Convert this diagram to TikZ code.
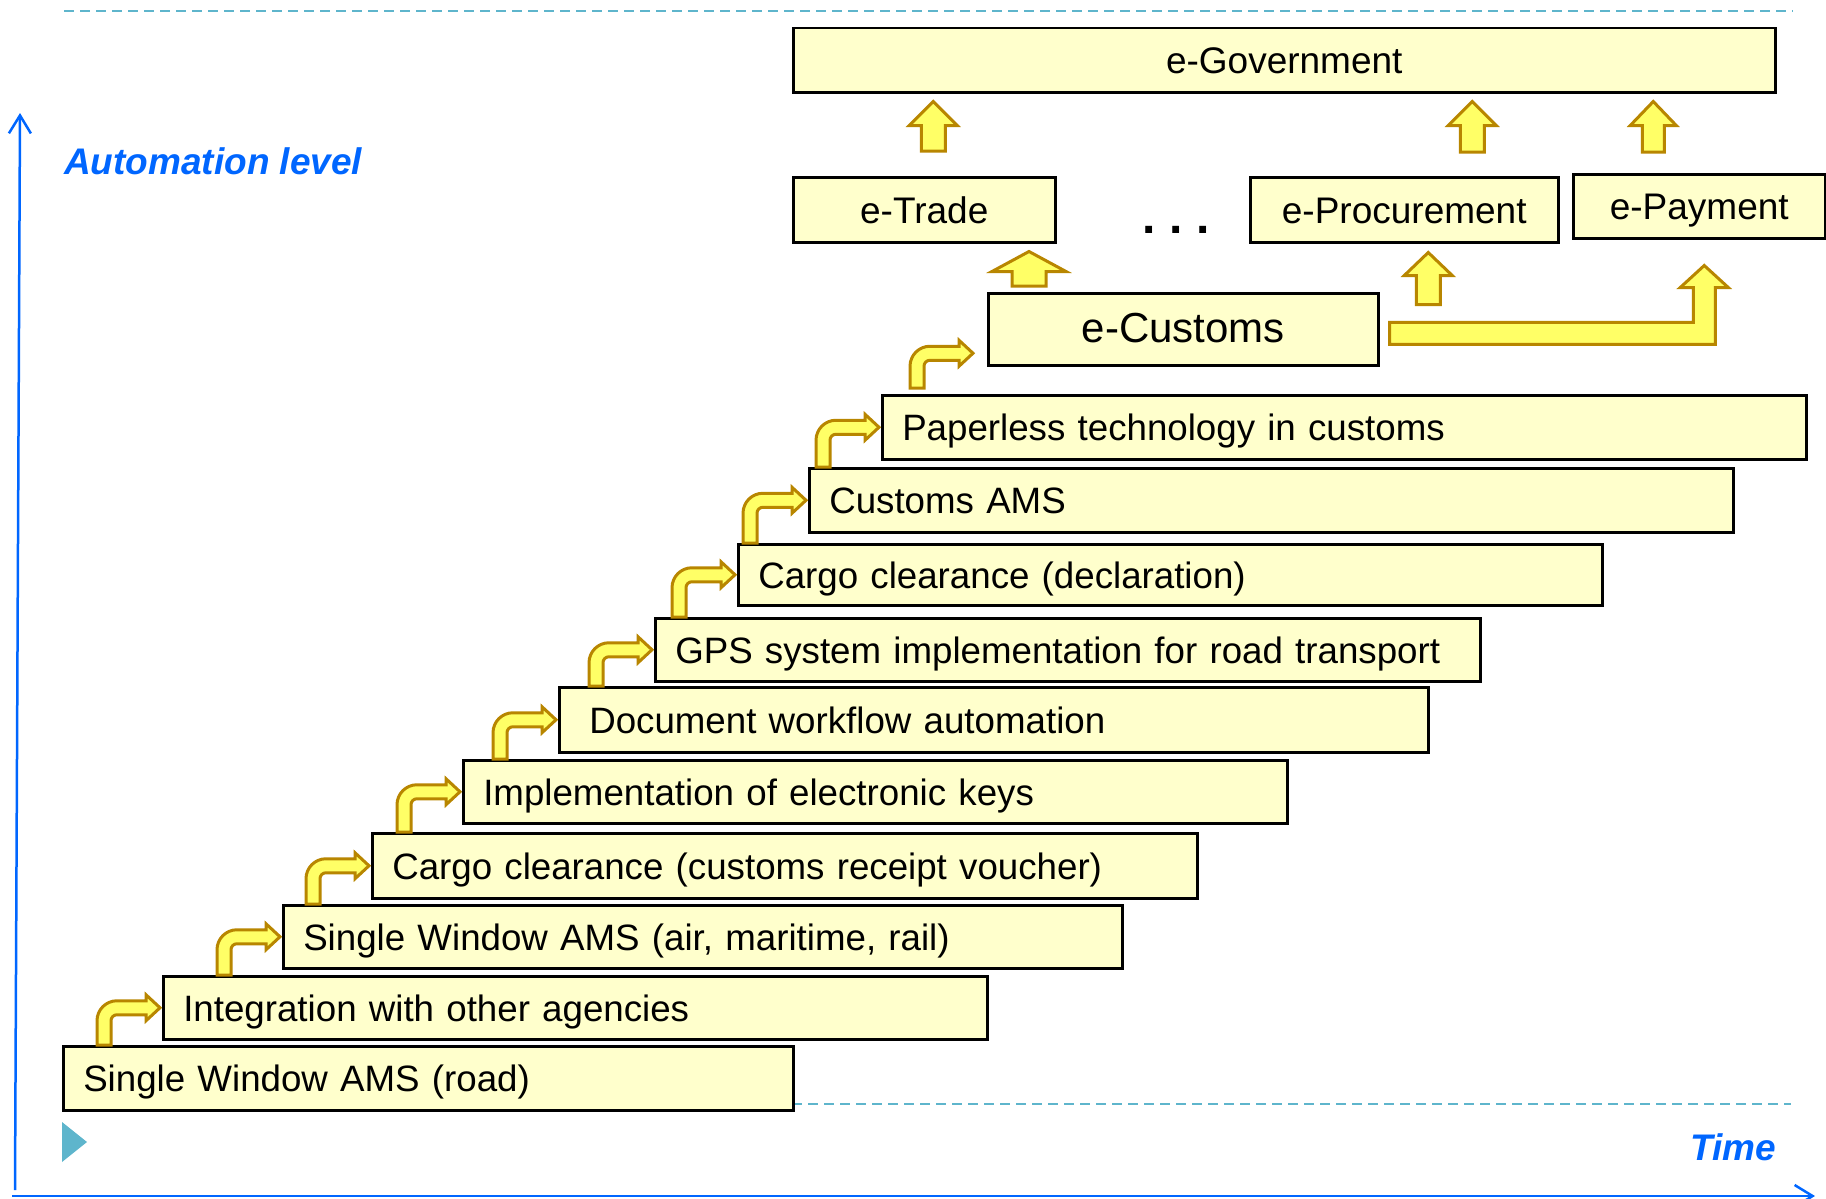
\documentclass[tikz,border=0pt]{standalone}
\usepackage{fontspec}
\setmainfont{Liberation Sans}
\usetikzlibrary{arrows.meta,calc}
\definecolor{boxfill}{RGB}{255,255,204}
\definecolor{arrowfill}{RGB}{255,255,102}
\definecolor{arrowline}{RGB}{184,134,0}
\definecolor{axisblue}{RGB}{0,102,255}
\definecolor{guidecolor}{RGB}{94,181,204}
%% bent block arrow: #1 gives the level of the stem foot, #2 the tip
\newcommand{\stairArrow}[2]{%
  \draw[bentArrow] let \p1=(#1), \p2=(#2) in
    (\x2-63pt,\y1) -- (\x2-63pt,\y2-13pt) arc[start angle=180,end angle=90,radius=20pt]
    -- (\x2-14pt,\y2+7pt) -- (\x2-14pt,\y2+13pt) -- (\x2,\y2)
    -- (\x2-14pt,\y2-13pt) -- (\x2-14pt,\y2-7pt) -- (\x2-43pt,\y2-7pt)
    arc[start angle=90,end angle=180,radius=6pt] -- (\x2-49pt,\y1) -- cycle;}
%% straight block arrow: #1 foot, #2 tip level, #3 half shaft, #4 half head, #5 head length
\newcommand{\upArrow}[5]{%
  \draw[bentArrow] let \p1=(#1), \p2=(#2) in
    (\x1-#3,\y1) -- (\x1-#3,\y2-#5) -- (\x1-#4,\y2-#5) -- (\x1,\y2)
    -- (\x1+#4,\y2-#5) -- (\x1+#3,\y2-#5) -- (\x1+#3,\y1) -- cycle;}

\begin{document}
\begin{tikzpicture}[x=1pt, y=1pt]
%% all positions are given in pixels of the original slide, y pointing down
\tikzstyle{stage}=[draw=black, line width=2.5pt, fill=boxfill, anchor=north west, inner xsep=20pt, inner ysep=0pt, text height=30pt, text depth=3pt, align=left, font=\fontsize{36.7}{44}\selectfont]
\tikzstyle{ebox}=[draw=black, line width=2.5pt, fill=boxfill, anchor=north west, inner sep=0pt, text height=30pt, text depth=3pt, align=center, font=\fontsize{37}{44}\selectfont]
\tikzstyle{bentArrow}=[draw=arrowline, fill=arrowfill, line width=3pt]
\tikzstyle{axis}=[draw=axisblue, line width=2.5pt, ->, >={Straight Barb[length=18pt,width=22pt]}]
\tikzstyle{axislabel}=[text=axisblue, anchor=west, inner sep=0pt, font=\fontsize{37}{44}\selectfont\bfseries\itshape]
\tikzstyle{guideline}=[draw=guidecolor, line width=2pt, dash pattern=on 10pt off 6pt]
\useasboundingbox (0,0) rectangle (1826,-1199);
%% guide lines and marker
\draw[guideline] (64,-11) -- (1793,-11);
\draw[guideline] (792,-1104) -- (1791,-1104);
\fill[guidecolor] (62,-1122) -- (87,-1142) -- (62,-1162) -- cycle;
%% axes
\draw[axis] (15,-1190) -- (20,-113);
\draw[axis] (12,-1196) -- (1815,-1196);
\node[axislabel] at (64,-161) (yLabel) {Automation level};
\node[axislabel] at (1690,-1147) (xLabel) {Time};
%% the staircase
\node[stage, minimum height=64pt, text width=690pt] at (62,-1045) (Road) {Single Window AMS (road)};
\node[stage, minimum height=63pt, text width=784pt] at (162,-975) (Integration) {Integration with other agencies};
\node[stage, minimum height=63pt, text width=799pt] at (282,-904) (SWair) {Single Window AMS (air, maritime, rail)};
\node[stage, minimum height=65pt, text width=785pt] at (371,-832) (Receipt) {Cargo clearance (customs receipt voucher)};
\node[stage, minimum height=63pt, text width=784pt] at (462,-759) (Keys) {Implementation of electronic keys};
\node[stage, minimum height=65pt, inner xsep=30pt, text width=809pt] at (558,-686) (Doc) {Document workflow automation};
\node[stage, minimum height=63pt, text width=785pt] at (654,-617) (GPS) {GPS system implementation for road transport};
\node[stage, minimum height=61pt, text width=824pt] at (737,-543) (CargoDecl) {Cargo clearance (declaration)};
\node[stage, minimum height=64pt, text width=884pt] at (808,-467) (CustomsAMS) {Customs AMS};
\node[stage, minimum height=64pt, text width=884pt] at (881,-394) (Paperless) {Paperless technology in customs};
\node[ebox, minimum width=390pt, minimum height=72pt, font=\fontsize{42}{50}\selectfont] at (987,-292) (eCustoms) {e-Customs};
%% upper level
\node[ebox, minimum width=262pt, minimum height=65pt] at (792,-176) (eTrade) {e-Trade};
\node[ebox, minimum width=308pt, minimum height=65pt] at (1249,-176) (eProc) {e-Procurement};
\node[ebox, minimum width=252pt, minimum height=64pt] at (1572,-173) (ePay) {e-Payment};
\node[ebox, minimum width=982pt, minimum height=64pt] at (792,-27) (eGov) {e-Government};
\node[inner sep=0pt, font=\fontsize{48}{50}\selectfont\bfseries] at (1176,-230) (dots) {.\hspace{14pt}.\hspace{14pt}.};
%% steps between the stages
\foreach \lo/\hi in {Road/Integration, Integration/SWair, SWair/Receipt, Receipt/Keys, Keys/Doc, Doc/GPS, GPS/CargoDecl, CargoDecl/CustomsAMS, CustomsAMS/Paperless}
  \stairArrow{\lo.north}{[xshift=-2pt]\hi.west};
\stairArrow{[yshift=6pt]Paperless.north}{[shift={(-14pt,-24pt)}]eCustoms.west}
%% arrows to the upper level
\upArrow{[xshift=42pt,yshift=6pt]eCustoms.north west}{[yshift=-8pt]eTrade.south}{17pt}{37pt}{20pt}
\upArrow{[xshift=24pt,yshift=-61pt]eProc.south}{[yshift=-9pt]eProc.south}{12pt}{24pt}{23pt}
\upArrow{[xshift=9pt,yshift=25pt]eTrade.north}{[yshift=-8pt]eGov.south}{12pt}{24pt}{24pt}
\upArrow{[xshift=68pt,yshift=24pt]eProc.north}{[yshift=-8pt]eGov.south}{12pt}{24pt}{24pt}
\upArrow{[xshift=-46pt,yshift=21pt]ePay.north}{[yshift=-8pt]eGov.south}{11pt}{23pt}{24pt}
%% long arrow from e-Customs to e-Payment
\draw[bentArrow] let \p1=([xshift=10pt,yshift=-4pt]eCustoms.east), \p2=([xshift=5pt,yshift=-26pt]ePay.south) in
  (\x1,\y1+11pt) -- (\x2-11pt,\y1+11pt) -- (\x2-11pt,\y2-22pt) -- (\x2-24pt,\y2-22pt) -- (\x2,\y2)
  -- (\x2+24pt,\y2-22pt) -- (\x2+11pt,\y2-22pt) -- (\x2+11pt,\y1-11pt) -- (\x1,\y1-11pt) -- cycle;
\end{tikzpicture}
\end{document}
